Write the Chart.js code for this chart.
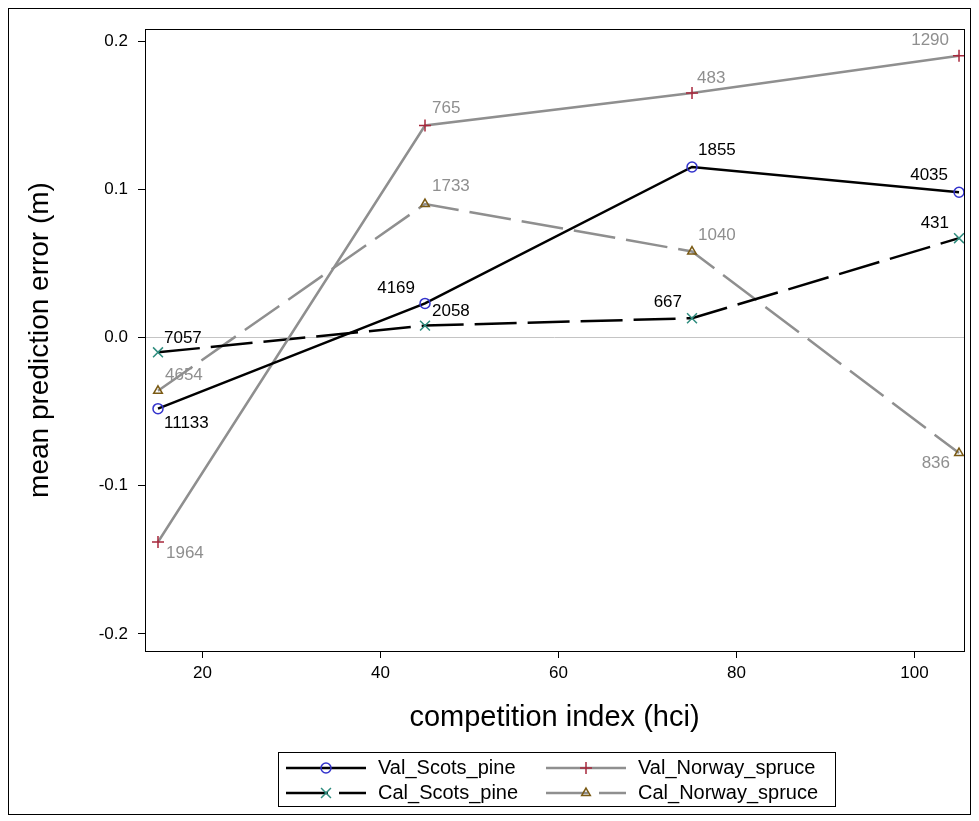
<!DOCTYPE html>
<html>
<head>
<meta charset="utf-8">
<script src="https://cdn.jsdelivr.net/npm/chart.js@4.4.0/dist/chart.umd.min.js"></script>
<style>
  html, body { margin: 0; padding: 0; background: #fff; }
  #wrap { width: 979px; height: 821px; position: relative; }
</style>
</head>
<body>
<div id="wrap"><canvas id="chart" width="979" height="821"></canvas></div>
<script>
// competition index classes
const hci = [15, 45, 75, 105];

// mean prediction error (m)
const valScotsPine = [-0.048, 0.023, 0.115, 0.098];
const valNorwaySpruce = [-0.138, 0.143, 0.165, 0.190];
const calScotsPine = [-0.010, 0.008, 0.013, 0.067];
const calNorwaySpruce = [-0.036, 0.090, 0.058, -0.078];

// number of observations per class (point labels)
const valScotsPineN = [11133, 4169, 1855, 4035];
const valNorwaySpruceN = [1964, 765, 483, 1290];
const calScotsPineN = [7057, 2058, 667, 431];
const calNorwaySpruceN = [4654, 1733, 1040, 836];

const xTicks = [20, 40, 60, 80, 100];
const yTicks = [-0.2, -0.1, 0.0, 0.1, 0.2];

const FONT = '"Liberation Sans", Arial, sans-serif';
Chart.defaults.font.family = FONT;
Chart.defaults.color = '#000';

const GRAY = '#8f8f8f';

function pts(ys) {
    return hci.map((x, i) => ({ x: x, y: ys[i] }));
}

// label placement next to each point: [dx, dy, align]
const labelPos = [
    [[6, 15, 'left'], [-10, -15, 'right'], [6, -17, 'left'], [-11, -17, 'right']],
    [[8, 11, 'left'], [7, -17, 'left'], [5, -15, 'left'], [-10, -16, 'right']],
    [[6, -14, 'left'], [7, -14, 'left'], [-10, -16, 'right'], [-10, -15, 'right']],
    [[7, -16, 'left'], [7, -18, 'left'], [6, -16, 'left'], [-9, 10, 'right']]
];

const datasets = [
    {
        label: 'Val_Scots_pine', data: pts(valScotsPine), counts: valScotsPineN, labelColor: '#000',
        borderColor: '#000', borderWidth: 2.5,
        pointStyle: 'circle', pointRadius: 5, pointBorderColor: '#3333cc', pointBackgroundColor: 'rgba(0,0,0,0)', pointBorderWidth: 1.5
    },
    {
        label: 'Val_Norway_spruce', data: pts(valNorwaySpruce), counts: valNorwaySpruceN, labelColor: GRAY,
        borderColor: GRAY, borderWidth: 2.5,
        pointStyle: 'cross', pointRadius: 6, pointBorderColor: '#a8283c', pointBackgroundColor: 'rgba(0,0,0,0)', pointBorderWidth: 1.5
    },
    {
        label: 'Cal_Scots_pine', data: pts(calScotsPine), counts: calScotsPineN, labelColor: '#000',
        borderColor: '#000', borderWidth: 2.5, borderDash: [42, 11],
        pointStyle: 'crossRot', pointRadius: 7, pointBorderColor: '#2e8c7e', pointBackgroundColor: 'rgba(0,0,0,0)', pointBorderWidth: 1.5
    },
    {
        label: 'Cal_Norway_spruce', data: pts(calNorwaySpruce), counts: calNorwaySpruceN, labelColor: GRAY,
        borderColor: GRAY, borderWidth: 2.5, borderDash: [42, 11],
        pointStyle: 'triangle', pointRadius: 5, pointBorderColor: '#7a5a14', pointBackgroundColor: 'rgba(0,0,0,0)', pointBorderWidth: 1.5
    }
];

// zero reference line, plot frame, outer frame
const framePlugin = {
    id: 'frame',
    beforeDatasetsDraw(chart) {
        const { ctx, chartArea: a, scales: { y } } = chart;
        const y0 = Math.round(y.getPixelForValue(0)) + 0.5;
        ctx.save();
        ctx.strokeStyle = '#c4c4c4';
        ctx.lineWidth = 1;
        ctx.beginPath();
        ctx.moveTo(a.left, y0);
        ctx.lineTo(a.right, y0);
        ctx.stroke();
        ctx.restore();
    },
    afterDraw(chart) {
        const { ctx, chartArea: a } = chart;
        ctx.save();
        ctx.strokeStyle = '#000';
        ctx.lineWidth = 1;
        ctx.strokeRect(Math.round(a.left) + 0.5, Math.round(a.top) + 0.5,
            Math.round(a.right - a.left), Math.round(a.bottom - a.top));
        ctx.strokeRect(8.5, 8.5, 962, 806);
        ctx.restore();
    }
};

// counts written next to each point
const countLabels = {
    id: 'countLabels',
    afterDatasetsDraw(chart) {
        const ctx = chart.ctx;
        ctx.save();
        ctx.font = '17px ' + FONT;
        ctx.textBaseline = 'middle';
        chart.data.datasets.forEach((ds, di) => {
            const meta = chart.getDatasetMeta(di);
            meta.data.forEach((pt, i) => {
                const [dx, dy, align] = labelPos[di][i];
                ctx.fillStyle = ds.labelColor;
                ctx.textAlign = align;
                ctx.fillText(String(ds.counts[i]), pt.x + dx, pt.y + dy);
            });
        });
        ctx.restore();
    }
};

// boxed two-column legend under the axis title
const boxLegend = {
    id: 'boxLegend',
    afterDraw(chart) {
        const ctx = chart.ctx;
        const box = { left: 278, top: 752, width: 557, height: 54 };
        const cols = [286, 546];
        const rows = [768, 793];
        const lineLen = 80;
        ctx.save();
        ctx.strokeStyle = '#000';
        ctx.lineWidth = 1;
        ctx.strokeRect(box.left + 0.5, box.top + 0.5, box.width, box.height);
        ctx.font = '20px ' + FONT;
        ctx.textBaseline = 'middle';
        ctx.textAlign = 'left';
        chart.data.datasets.forEach((ds, di) => {
            const x0 = cols[di % 2];
            const y0 = rows[Math.floor(di / 2)];
            ctx.strokeStyle = ds.borderColor;
            ctx.lineWidth = ds.borderWidth;
            ctx.setLineDash(ds.borderDash || []);
            ctx.beginPath();
            ctx.moveTo(x0, y0);
            ctx.lineTo(x0 + lineLen, y0);
            ctx.stroke();
            ctx.setLineDash([]);
            ctx.strokeStyle = ds.pointBorderColor;
            ctx.fillStyle = 'rgba(0,0,0,0)';
            ctx.lineWidth = ds.pointBorderWidth;
            Chart.helpers.drawPoint(ctx, {
                pointStyle: ds.pointStyle, radius: ds.pointRadius,
                borderWidth: ds.pointBorderWidth, rotation: 0
            }, x0 + lineLen / 2, y0);
            ctx.fillStyle = '#000';
            ctx.fillText(ds.label, x0 + lineLen + 12, y0);
        });
        ctx.restore();
    }
};

new Chart(document.getElementById('chart'), {
    type: 'line',
    data: { datasets: datasets },
    options: {
        responsive: false,
        animation: false,
        devicePixelRatio: 1,
        layout: { padding: { left: 0, right: 15, top: 29, bottom: 0 } },
        plugins: { legend: { display: false }, tooltip: { enabled: false } },
        elements: { line: { tension: 0, fill: false } },
        scales: {
            x: {
                type: 'linear',
                min: 13.54, max: 105.56,
                afterBuildTicks: s => { s.ticks = xTicks.map(v => ({ value: v })); },
                afterFit: s => { s.height = 170; },
                ticks: { font: { size: 17 }, color: '#000', padding: 5 },
                grid: { drawOnChartArea: false, drawTicks: true, tickLength: 7, color: '#000' },
                border: { display: true, color: '#000' },
                title: { display: true, text: 'competition index (hci)', font: { size: 29 }, color: '#000', padding: { top: 0, bottom: 86 } }
            },
            y: {
                type: 'linear',
                min: -0.2115, max: 0.2081,
                afterBuildTicks: s => { s.ticks = yTicks.map(v => ({ value: v })); },
                afterFit: s => { s.width = 145; },
                ticks: { font: { size: 17 }, color: '#000', padding: 10, callback: v => v.toFixed(1) },
                grid: { drawOnChartArea: false, drawTicks: true, tickLength: 7, color: '#000' },
                border: { display: true, color: '#000' },
                title: { display: true, text: 'mean prediction error (m)', font: { size: 28 }, color: '#000', padding: { top: 23, bottom: 0 } }
            }
        }
    },
    plugins: [framePlugin, countLabels, boxLegend]
});
</script>
</body>
</html>
